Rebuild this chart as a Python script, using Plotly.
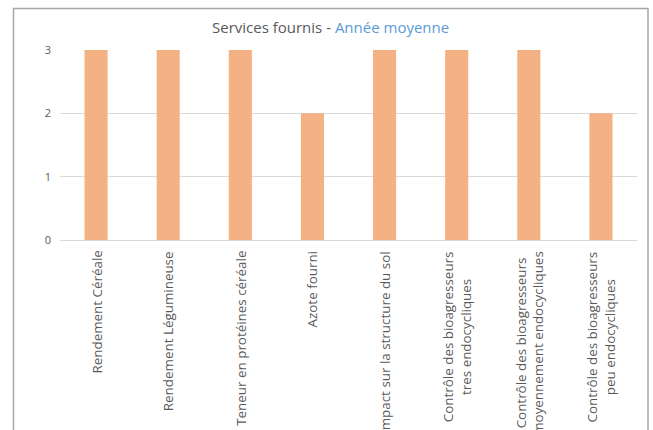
import plotly.graph_objects as go

categories = [
    "Rendement Céréale",
    "Rendement Légumineuse",
    "Teneur en protéines céréale",
    "Azote fourni",
    "Impact sur la structure du sol",
    "Contrôle des bioagresseurs<br>tres endocycliques",
    "Contrôle des bioagresseurs<br>moyennement endocycliques",
    "Contrôle des bioagresseurs<br>peu endocycliques",
]
values = [3, 3, 3, 2, 3, 3, 3, 2]
y_ticks = [0, 1, 2, 3]

W, H = 653, 430
ML, MR, MT, MB = 60, 16, 50, 190
pw, ph = W - ML - MR, H - MT - MB

def px_x(p):
    return (p - ML) / pw

def px_y(p):
    return (H - MB - p) / ph

fig = go.Figure(go.Bar(
    x=list(range(len(categories))),
    y=values,
    marker=dict(color="#F4B183", line=dict(width=0)),
    hoverinfo="skip",
))

annotations = [
    dict(
        x=i, y=px_y(249), xref="x", yref="paper",
        text=lab, textangle=-90, showarrow=False,
        xanchor="center", yanchor="top", align="center",
        font=dict(family="Open Sans", size=13.4, color="#595959"),
    )
    for i, lab in enumerate(categories)
]
annotations.append(dict(
    x=px_x(330), y=px_y(27), xref="paper", yref="paper",
    text="Services fournis - <span style='color:#5B9BD5'>Année moyenne</span>",
    showarrow=False, xanchor="center", yanchor="middle",
    font=dict(family="Open Sans", size=15, color="#595959"),
))

fig.update_layout(
    width=W, height=H,
    margin=dict(l=ML, r=MR, t=MT, b=MB, autoexpand=False),
    paper_bgcolor="white", plot_bgcolor="white",
    bargap=0.68,
    showlegend=False,
    annotations=annotations,
    shapes=[dict(
        type="rect", xref="paper", yref="paper",
        x0=px_x(13.5), x1=px_x(648), y0=px_y(460), y1=px_y(8.5),
        line=dict(color="#A6A6A6", width=1.5), fillcolor="rgba(0,0,0,0)",
        layer="below",
    )],
    xaxis=dict(
        range=[-0.5, len(categories) - 0.5],
        showticklabels=False, showgrid=False, zeroline=False,
        showline=False, ticks="", fixedrange=True,
    ),
    yaxis=dict(
        range=[0, 3], tickvals=y_ticks,
        showgrid=True, gridcolor="#D9D9D9", gridwidth=1,
        zeroline=True, zerolinecolor="#D9D9D9", zerolinewidth=1,
        showline=False, ticks="", ticklabelstandoff=8,
        tickfont=dict(family="Open Sans", size=11, color="#595959"),
        fixedrange=True,
    ),
)

fig.write_html("out.html", config={"displayModeBar": False})
with open("out.html", encoding="utf-8") as f:
    html = f.read()
html = html.replace("<body>", "<body style=\"margin:0;overflow:hidden\">", 1)
with open("out.html", "w", encoding="utf-8") as f:
    f.write(html)
